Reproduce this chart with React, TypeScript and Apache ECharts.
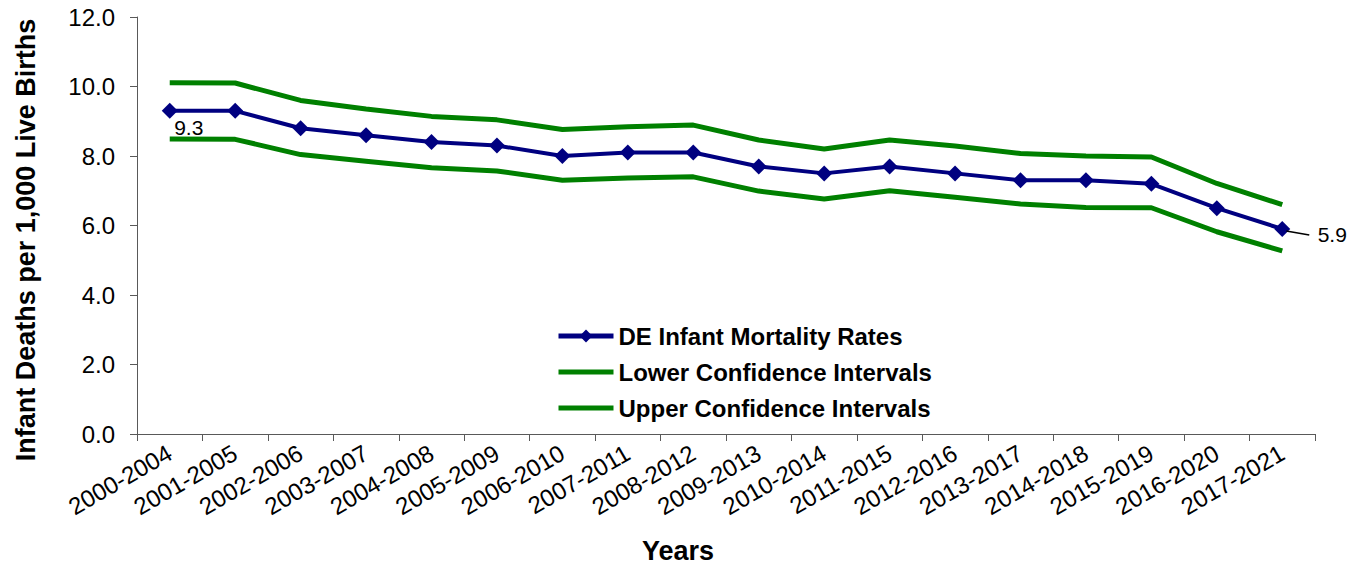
import React, { useEffect, useRef } from "react";
import * as echarts from "echarts";

const categories = [
  "2000-2004", "2001-2005", "2002-2006", "2003-2007", "2004-2008", "2005-2009",
  "2006-2010", "2007-2011", "2008-2012", "2009-2013", "2010-2014", "2011-2015",
  "2012-2016", "2013-2017", "2014-2018", "2015-2019", "2016-2020", "2017-2021",
];
const rates = [9.3, 9.3, 8.8, 8.6, 8.4, 8.3, 8.0, 8.1, 8.1, 7.7, 7.5, 7.7, 7.5, 7.3, 7.3, 7.2, 6.5, 5.9];
const lowerCI = [8.49, 8.48, 8.04, 7.85, 7.66, 7.57, 7.3, 7.37, 7.4, 6.99, 6.76, 7.0, 6.81, 6.62, 6.52, 6.51, 5.82, 5.27];
const upperCI = [10.11, 10.1, 9.6, 9.35, 9.14, 9.04, 8.76, 8.84, 8.89, 8.46, 8.2, 8.46, 8.29, 8.07, 8.0, 7.97, 7.21, 6.6];
const yTicks = { min: 0, max: 12, interval: 2 };
const labelledIdx = [0, 17];

const FONT = "'Liberation Sans', Arial, sans-serif";

export default function App() {
  const ref = useRef<HTMLDivElement>(null);
  useEffect(() => {
    if (!ref.current) return;
    const chart = echarts.init(ref.current, null, { renderer: "svg" });
    const rateData = rates.map((v, i) => {
      if (i === labelledIdx[0]) {
        return {
          value: v,
          label: { show: true, position: "inside", offset: [19, 17], formatter: (p: any) => p.value.toFixed(1) },
        };
      }
      if (i === labelledIdx[1]) {
        return {
          value: v,
          label: { show: true, position: "inside", offset: [50, 6], formatter: (p: any) => p.value.toFixed(1) },
        };
      }
      return v;
    });
    chart.setOption({
      animation: false,
      grid: { left: 137, right: 51, top: 17, bottom: 133, containLabel: false },
      legend: {
        orient: "vertical",
        left: 556,
        top: 324,
        padding: 0,
        itemWidth: 55,
        itemHeight: 16,
        itemGap: 12,
        textStyle: { fontFamily: FONT, fontSize: 24, fontWeight: "bold", color: "#000", lineHeight: 24 },
        data: [
          { name: "DE Infant Mortality Rates", lineStyle: { color: "#000080", width: 5 } },
          {
            name: "Lower Confidence Intervals",
            itemStyle: { opacity: 0 },
            lineStyle: { color: "#008000", width: 5 },
          },
          {
            name: "Upper Confidence Intervals",
            itemStyle: { opacity: 0 },
            lineStyle: { color: "#008000", width: 5 },
          },
        ],
      },
      xAxis: {
        type: "category",
        data: categories,
        boundaryGap: true,
        axisLine: { lineStyle: { color: "#595959", width: 1 } },
        axisTick: { show: true, length: 7, interval: 0, lineStyle: { color: "#595959" } },
        axisLabel: { interval: 0, rotate: 30, margin: 17, fontFamily: FONT, fontSize: 24, color: "#000" },
        splitLine: { show: false },
      },
      yAxis: {
        type: "value",
        min: yTicks.min,
        max: yTicks.max,
        interval: yTicks.interval,
        axisLine: { show: true, lineStyle: { color: "#595959", width: 1 } },
        axisTick: { show: true, length: 7, lineStyle: { color: "#595959" } },
        axisLabel: { margin: 22, fontFamily: FONT, fontSize: 24, color: "#000", formatter: (v: number) => v.toFixed(1) },
        splitLine: { show: false },
      },
      series: [
        {
          name: "Upper Confidence Intervals",
          type: "line",
          data: upperCI,
          symbol: "none",
          lineStyle: { color: "#008000", width: 5 },
          itemStyle: { color: "#008000" },
          z: 2,
        },
        {
          name: "Lower Confidence Intervals",
          type: "line",
          data: lowerCI,
          symbol: "none",
          lineStyle: { color: "#008000", width: 5 },
          itemStyle: { color: "#008000" },
          z: 2,
        },
        {
          name: "DE Infant Mortality Rates",
          type: "line",
          data: rateData,
          symbol: "diamond",
          symbolSize: 16,
          lineStyle: { color: "#000080", width: 4 },
          itemStyle: { color: "#000080" },
          label: { fontFamily: FONT, fontSize: 21, color: "#000" },
          z: 3,
        },
      ],
    });
    const last = labelledIdx[1];
    const p = chart.convertToPixel({ seriesIndex: 2 }, [last, rates[last]]) as number[];
    chart.setOption({
      graphic: [
        {
          type: "line",
          shape: { x1: p[0] + 4, y1: p[1] + 2, x2: p[0] + 27, y2: p[1] + 6 },
          style: { stroke: "#000", lineWidth: 1.5 },
          z: 10,
        },
        {
          type: "text",
          x: 26,
          y: 240,
          rotation: Math.PI / 2,
          style: {
            text: "Infant Deaths per 1,000 Live Births",
            font: `bold 27px ${FONT}`,
            fill: "#000",
            textAlign: "center",
            textVerticalAlign: "middle",
            align: "center",
            verticalAlign: "middle",
          },
        },
        {
          type: "text",
          x: 678,
          y: 551,
          style: {
            text: "Years",
            font: `bold 27px ${FONT}`,
            fill: "#000",
            textAlign: "center",
            textVerticalAlign: "middle",
            align: "center",
            verticalAlign: "middle",
          },
        },
      ],
    });
    return () => chart.dispose();
  }, []);
  return (
    <div
      ref={ref}
      style={{ position: "absolute", left: 0, top: 0, width: 1366, height: 567, background: "#fff" }}
    />
  );
}
